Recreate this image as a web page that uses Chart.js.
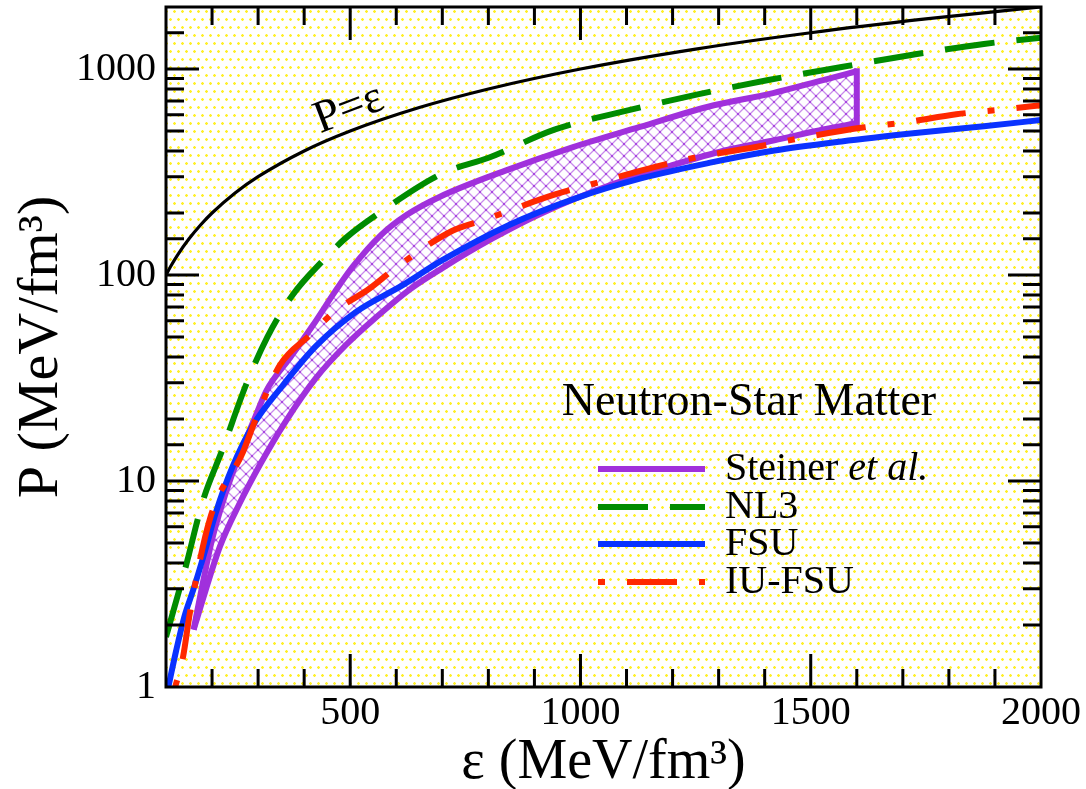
<!DOCTYPE html>
<html>
<head>
<meta charset="utf-8">
<script src="https://cdn.jsdelivr.net/npm/chart.js@4.4.1/dist/chart.umd.min.js"></script>
<style>
	html, body { margin: 0; padding: 0; background: #fff; }
	#wrap { width: 1086px; height: 789px; }
</style>
</head>
<body>
<div id="wrap"><canvas id="chart" width="1086" height="789"></canvas></div>
<script>
// axis labels
let xLabels = [500, 1000, 1500, 2000];
let yLabels = [1, 10, 100, 1000];

// P = epsilon reference line
let causalEps = [100, 110, 125, 150, 175, 200, 250, 300, 400, 500, 650, 800, 1000, 1250, 1500, 1750, 2000];
let causalP = [100, 110, 125, 150, 175, 200, 250, 300, 400, 500, 650, 800, 1000, 1250, 1500, 1750, 2000];

// Steiner et al. band
let steinerUpperEps = [160, 180, 200, 230, 260, 290, 319, 369, 419, 467, 506, 565, 623, 695, 840, 984, 1129, 1275, 1418, 1527, 1600];
let steinerUpperP = [1.9, 3.2, 5.2, 8.8, 13.5, 19.5, 27.7, 39.5, 57, 83, 110, 155, 196, 240, 323, 418, 523, 654, 764, 884, 975];
let steinerLowerEps = [160, 217, 260, 304, 360, 425, 490, 555, 629, 700, 808, 917, 1062, 1205, 1313, 1421, 1530, 1600];
let steinerLowerP = [1.9, 4.8, 7.8, 12.0, 19.5, 31.5, 45.6, 62, 85, 108, 150, 200, 272, 344, 402, 451, 510, 545];

// NL3
let nl3Eps = [100, 143, 180, 223, 273, 320, 375, 440, 490, 570, 700, 802, 945, 1105, 1257, 1408, 1567, 1718, 1876, 2000];
let nl3P = [1.75, 3.85, 8, 14.3, 29, 50, 80, 117, 151, 205, 311, 372, 509, 631, 755, 884, 1023, 1170, 1324, 1417];

// FSU
let fsuEps = [105, 122, 140, 160, 185, 208, 245, 288, 353, 425, 512, 613, 700, 845, 988, 1133, 1279, 1421, 1567, 1733, 1876, 2000];
let fsuP = [1.0, 1.5, 2.2, 3.0, 4.6, 7.0, 11.8, 18.5, 29, 45, 66, 89, 118, 175, 235, 295, 350, 402, 445, 490, 528, 565];

// IU-FSU
let iufsuEps = [120, 137, 152, 195, 267, 295, 347, 412, 468, 542, 598, 722, 793, 945, 1053, 1162, 1270, 1378, 1487, 1617, 1707, 1816, 1924, 2000];
let iufsuP = [1.0, 1.4, 2.3, 6.5, 13.8, 20, 36.4, 51, 67, 86, 108, 164, 186, 246, 287, 335, 380, 417, 466, 521, 551, 603, 638, 667];

let seriesNames = ['Steiner et al.', 'NL3', 'FSU', 'IU-FSU'];

let purple = '#a030dc';
let green = '#008c00';
let blue = '#0a32ff';
let red = '#ff2800';
let serif = '"Liberation Serif", "DejaVu Serif", serif';

function pts(xs, ys) {
	return xs.map((x, i) => ({x, y: ys[i]}));
}

function makePattern(w, h, paint) {
	let c = document.createElement('canvas');
	c.width = w;
	c.height = h;
	paint(c.getContext('2d'));
	return c.getContext('2d').createPattern(c, 'repeat');
}

// pale yellow dotted paper
let dots = makePattern(8, 16, (g) => {
	g.fillStyle = '#ffffff';
	g.fillRect(0, 0, 8, 16);
	for (let [x, y] of [[2, 3], [6, 11]]) {
		g.fillStyle = '#fffac0';
		g.fillRect(x - 1, y - 1, 3, 3);
		g.fillStyle = '#fff028';
		g.fillRect(x, y - 1, 1, 3);
		g.fillRect(x - 1, y, 3, 1);
	}
});

// purple cross hatch for the band
let hatch = makePattern(12, 12, (g) => {
	g.fillStyle = '#ffffff';
	g.fillRect(0, 0, 12, 12);
	g.strokeStyle = '#c88ceb';
	g.lineWidth = 1.3;
	g.beginPath();
	g.moveTo(0, 0); g.lineTo(12, 12);
	g.moveTo(12, 0); g.lineTo(0, 12);
	g.stroke();
	g.fillStyle = '#a848e0';
	g.fillRect(5, 5, 2, 2);
	g.fillRect(0, 0, 1, 1); g.fillRect(11, 0, 1, 1); g.fillRect(0, 11, 1, 1); g.fillRect(11, 11, 1, 1);
});

function line(label, xs, ys, color, width, extra) {
	return Object.assign({
		label,
		data: pts(xs, ys),
		showLine: true,
		borderColor: color,
		backgroundColor: color,
		borderWidth: width,
		pointRadius: 0,
		cubicInterpolationMode: 'monotone',
		fill: false,
	}, extra || {});
}

let datasets = [
	line('P=ε', causalEps, causalP, '#000', 3.2, {order: 6}),
	line('Steiner lower', steinerLowerEps, steinerLowerP, purple, 6, {order: 4}),
	line(seriesNames[0], steinerUpperEps, steinerUpperP, purple, 6, {order: 4, fill: '-1', backgroundColor: hatch}),
	line('Steiner edge',
		[steinerLowerEps[steinerLowerEps.length - 1], steinerUpperEps[steinerUpperEps.length - 1]],
		[steinerLowerP[steinerLowerP.length - 1], steinerUpperP[steinerUpperP.length - 1]],
		purple, 6, {order: 4, borderCapStyle: 'square'}),
	line(seriesNames[1], nl3Eps, nl3P, green, 6, {order: 1, borderDash: [50, 22]}),
	line(seriesNames[2], fsuEps, fsuP, blue, 6, {order: 2}),
	line(seriesNames[3], iufsuEps, iufsuP, red, 6, {order: 0, borderDash: [7, 22, 50, 22]}),
];
let legendSets = [2, 4, 5, 6];

let frame = {
	id: 'frame',
	beforeDraw(chart) {
		let {ctx, chartArea: a} = chart;
		ctx.save();
		ctx.fillStyle = dots;
		ctx.fillRect(a.left, a.top, a.right - a.left, a.bottom - a.top);
		ctx.restore();
	},
	afterDatasetsDraw(chart) {
		let {ctx, chartArea: a, scales} = chart;
		let {x, y} = scales;
		ctx.save();
		ctx.strokeStyle = '#000';
		ctx.lineWidth = 3;
		ctx.lineCap = 'butt';
		ctx.beginPath();
		for (let t of x.ticks) {
			let px = x.getPixelForValue(t.value);
			if (px <= a.left + 1 || px >= a.right - 1) continue;
			let len = t.value % 500 === 0 ? 33 : 18;
			ctx.moveTo(px, a.bottom); ctx.lineTo(px, a.bottom - len);
			ctx.moveTo(px, a.top); ctx.lineTo(px, a.top + len);
		}
		for (let t of y.ticks) {
			let py = y.getPixelForValue(t.value);
			if (py <= a.top + 1 || py >= a.bottom - 1) continue;
			let lg = Math.log10(t.value);
			let len = Math.abs(lg - Math.round(lg)) < 1e-9 ? 33 : 18;
			ctx.moveTo(a.left, py); ctx.lineTo(a.left + len, py);
			ctx.moveTo(a.right, py); ctx.lineTo(a.right - len, py);
		}
		ctx.stroke();
		ctx.strokeRect(a.left, a.top, a.right - a.left, a.bottom - a.top);

		// label on the P = epsilon line
		let e0 = 462;
		let p0x = x.getPixelForValue(e0), p0y = y.getPixelForValue(e0);
		let p1x = x.getPixelForValue(e0 + 100), p1y = y.getPixelForValue(e0 + 100);
		let ang = Math.atan2(p1y - p0y, p1x - p0x);
		ctx.translate(p0x, p0y);
		ctx.rotate(ang);
		ctx.fillStyle = '#000';
		ctx.font = '46px ' + serif;
		ctx.textAlign = 'left';
		ctx.textBaseline = 'alphabetic';
		ctx.fillText('P=ε', -10, -9);
		ctx.setTransform(1, 0, 0, 1, 0, 0);

		// legend
		ctx.font = '46px ' + serif;
		ctx.textAlign = 'center';
		ctx.fillText('Neutron-Star Matter', 749, 415);
		let rowY = [469, 507, 544, 582];
		legendSets.forEach((di, i) => {
			let ds = chart.data.datasets[di];
			ctx.strokeStyle = ds.borderColor;
			ctx.lineWidth = 6;
			ctx.setLineDash(ds.borderDash || []);
			ctx.beginPath();
			ctx.moveTo(598, rowY[i]);
			ctx.lineTo(705, rowY[i]);
			ctx.stroke();
			ctx.setLineDash([]);
			ctx.fillStyle = '#000';
			ctx.textAlign = 'left';
			ctx.textBaseline = 'middle';
			let name = ds.label;
			let cut = name.indexOf(' et al.');
			if (cut >= 0) {
				ctx.font = '40px ' + serif;
				let head = name.slice(0, cut + 1);
				ctx.fillText(head, 725, rowY[i]);
				let w = ctx.measureText(head).width;
				ctx.font = 'italic 40px ' + serif;
				ctx.fillText(name.slice(cut + 1), 725 + w, rowY[i]);
			} else {
				ctx.font = '40px ' + serif;
				ctx.fillText(name, 725, rowY[i]);
			}
		});
		ctx.restore();
	},
};

new Chart(document.getElementById('chart'), {
	type: 'scatter',
	data: {datasets},
	options: {
		responsive: false,
		animation: false,
		events: [],
		layout: {padding: {top: 7, right: 45, left: 0, bottom: 0}},
		plugins: {
			legend: {display: false},
			tooltip: {enabled: false},
			filler: {drawTime: 'beforeDatasetsDraw'},
		},
		scales: {
			x: {
				type: 'linear',
				min: 100,
				max: 2000,
				grid: {display: false, drawTicks: false},
				border: {display: false},
				ticks: {
					stepSize: 100,
					autoSkip: false,
					maxRotation: 0,
					padding: 2,
					color: '#000',
					font: {family: serif, size: 40},
					callback: (v) => xLabels.includes(v) ? String(v) : '',
				},
				title: {
					display: true,
					text: 'ε (MeV/fm³)',
					color: '#000',
					font: {family: serif, size: 56},
					padding: {top: 0, bottom: -8},
				},
				afterFit(s) {
					s.height = 102;
					s.paddingLeft = 0;
					s.paddingRight = 0;
				},
			},
			y: {
				type: 'logarithmic',
				min: 1,
				max: 2000,
				grid: {display: false, drawTicks: false},
				border: {display: false},
				ticks: {
					autoSkip: false,
					padding: 10,
					color: '#000',
					font: {family: serif, size: 40},
					callback: (v) => yLabels.includes(v) ? String(v) : '',
				},
				title: {
					display: true,
					text: 'P (MeV/fm³)',
					color: '#000',
					font: {family: serif, size: 58},
					padding: {top: 7, bottom: 0},
				},
				afterFit(s) {
					s.width = 166;
					s.paddingTop = 0;
					s.paddingBottom = 0;
				},
			},
		},
	},
	plugins: [frame],
});
</script>
</body>
</html>
